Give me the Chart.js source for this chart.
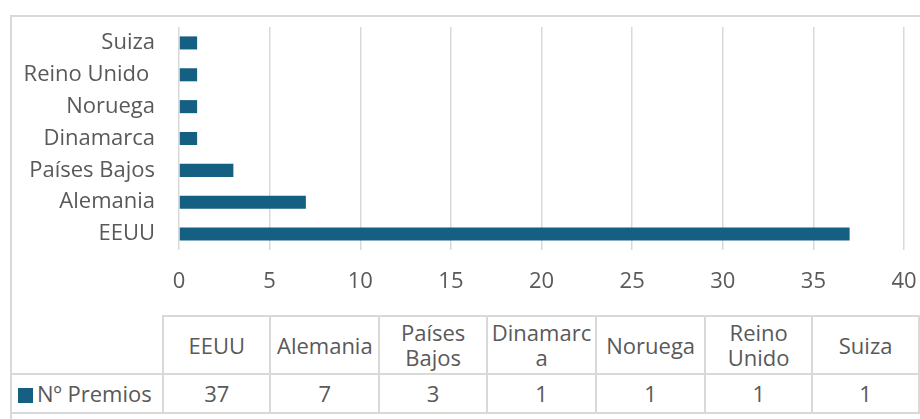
<!DOCTYPE html>
<html>
<head>
<meta charset="utf-8">
<script src="https://cdn.jsdelivr.net/npm/chart.js@4"></script>
<style>
  html, body { margin: 0; padding: 0; background: #fff; }
  body { width: 920px; height: 419px; overflow: hidden; position: relative; font-family: "Open Sans", sans-serif; }
  #frame { position: absolute; left: 10px; top: 15px; width: 1000px; height: 500px; border: 2px solid #d9d9d9; box-sizing: border-box; }
  #chart { position: absolute; left: 10px; top: 15px; }
  #dataTable { position: absolute; left: 10px; top: 315px; border-collapse: collapse; table-layout: fixed; color: #595959; font-size: 22px; }
  #dataTable td { border: 2px solid #d9d9d9; text-align: center; padding: 0; line-height: 25px; }
  #dataTable tr.head td { height: 56px; }
  #dataTable tr.vals td { height: 37px; }
  #dataTable td.blank { border-top: none; border-left: none; }
  #dataTable td.series { text-align: left; padding-left: 6px; white-space: nowrap; }
  .key { display: inline-block; width: 15px; height: 15px; background: #156082; margin-right: 4px; vertical-align: -1px; }
</style>
</head>
<body>
<div id="frame"></div>
<canvas id="chart" width="940" height="295"></canvas>
<table id="dataTable"></table>
<script>
  const countries = ['EEUU', 'Alemania', 'Países Bajos', 'Dinamarca', 'Noruega', 'Reino Unido ', 'Suiza'];
  const tableHeaders = [['EEUU'], ['Alemania'], ['Países', 'Bajos'], ['Dinamarc', 'a'], ['Noruega'], ['Reino', 'Unido'], ['Suiza']];
  const premios = [37, 7, 3, 1, 1, 1, 1];
  const seriesName = 'Nº Premios';
  const barColor = '#156082';
  const textColor = '#595959';

  function buildTable() {
    const table = document.getElementById('dataTable');
    const cols = document.createElement('colgroup');
    [153, 110, 110, 110, 110, 110, 110, 110].forEach((w) => {
      const c = document.createElement('col');
      c.style.width = w + 'px';
      cols.appendChild(c);
    });
    table.appendChild(cols);

    const head = document.createElement('tr');
    head.className = 'head';
    const blank = document.createElement('td');
    blank.className = 'blank';
    head.appendChild(blank);
    tableHeaders.forEach((lines) => {
      const td = document.createElement('td');
      lines.forEach((line, i) => {
        if (i > 0) td.appendChild(document.createElement('br'));
        td.appendChild(document.createTextNode(line));
      });
      head.appendChild(td);
    });
    table.appendChild(head);

    const row = document.createElement('tr');
    row.className = 'vals';
    const name = document.createElement('td');
    name.className = 'series';
    const key = document.createElement('span');
    key.className = 'key';
    name.appendChild(key);
    name.appendChild(document.createTextNode(seriesName));
    row.appendChild(name);
    premios.forEach((v) => {
      const td = document.createElement('td');
      td.textContent = String(v);
      row.appendChild(td);
    });
    table.appendChild(row);
  }

  buildTable();

  Chart.defaults.font.family = '"Open Sans", sans-serif';
  Chart.defaults.font.size = 22;
  Chart.defaults.color = textColor;

  new Chart(document.getElementById('chart'), {
    type: 'bar',
    data: {
      labels: countries,
      datasets: [{
        label: seriesName,
        data: premios,
        backgroundColor: barColor,
        borderWidth: 0,
        categoryPercentage: 1,
        barPercentage: 0.41
      }]
    },
    options: {
      indexAxis: 'y',
      responsive: false,
      animation: false,
      layout: { padding: { top: 12, right: 46, bottom: 0, left: 0 } },
      plugins: { legend: { display: false }, tooltip: { enabled: false } },
      scales: {
        x: {
          min: 0,
          max: 40,
          ticks: { stepSize: 5, padding: 19, maxRotation: 0 },
          grid: { color: '#d9d9d9', lineWidth: 1.5, drawTicks: false },
          border: { display: false },
          afterFit: (scale) => { scale.height = 60; scale.paddingLeft = 0; }
        },
        y: {
          reverse: true,
          ticks: { padding: 24 },
          grid: { display: false, drawTicks: false },
          border: { display: false },
          afterFit: (scale) => {
            scale.width = 169;
            scale.paddingTop = 0;
            scale.paddingBottom = 0;
          }
        }
      }
    }
  });
</script>
</body>
</html>
